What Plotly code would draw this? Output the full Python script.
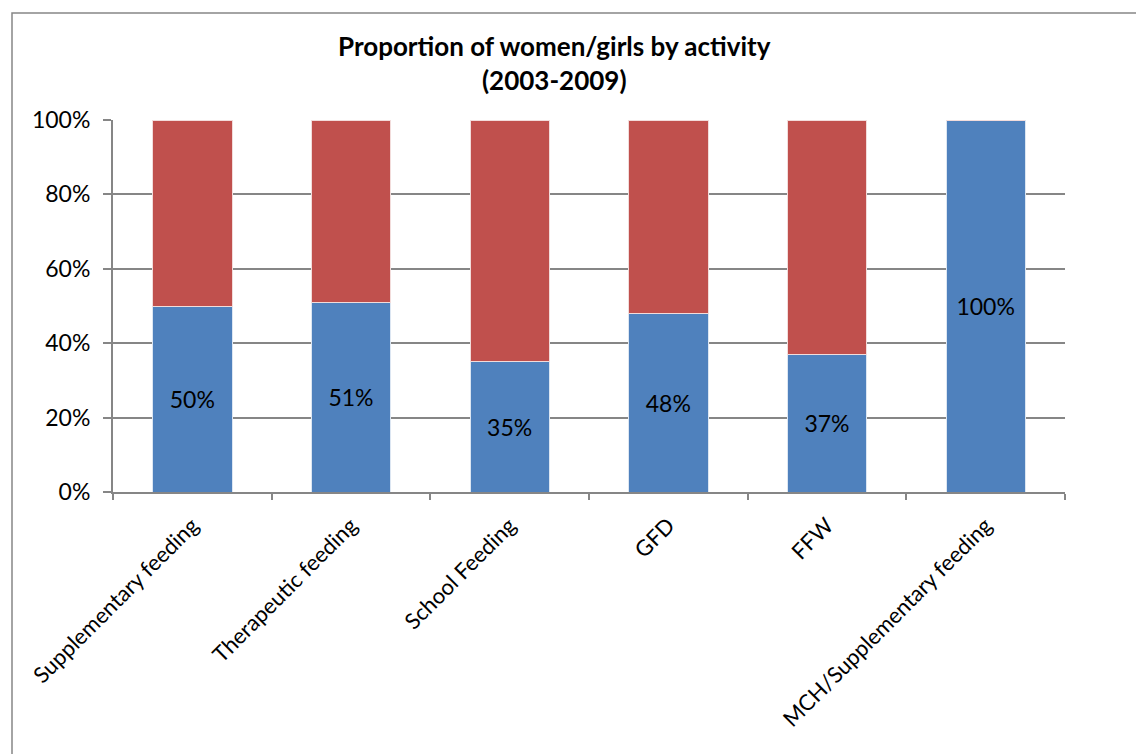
import plotly.graph_objects as go

categories = ["Supplementary feeding", "Therapeutic feeding", "School Feeding", "GFD", "FFW", "MCH/Supplementary feeding"]
women_girls = [50, 51, 35, 48, 37, 100]
others = [50, 49, 65, 52, 63, 0]
women_labels = ["50%", "51%", "35%", "48%", "37%", "100%"]

FONT = "Lato, Calibri, Carlito, sans-serif"

fig = go.Figure()
fig.add_trace(go.Bar(
    x=categories, y=women_girls, name="Women/girls",
    marker=dict(color="#4F81BD", line=dict(color="#DCE6F2", width=1)),
    text=women_labels, textposition="inside", insidetextanchor="middle",
    textfont=dict(family=FONT, size=23, color="black"),
    textangle=0,
))
fig.add_trace(go.Bar(
    x=categories, y=others, name="Men/boys",
    marker=dict(color="#C0504D", line=dict(color="#F2DCDB", width=1)),
    hoverinfo="y",
))

fig.update_layout(
    barmode="stack",
    bargap=0.5,
    width=1136, height=754,
    margin=dict(l=113, r=71, t=120, b=262),
    paper_bgcolor="white", plot_bgcolor="white",
    showlegend=False,
    font=dict(family=FONT, size=22, color="black"),
    uniformtext=dict(mode=False),
    annotations=[dict(
        text="<b>Proportion of women/girls by activity<br>(2003-2009)</b>",
        xref="paper", yref="paper", x=0.464, y=1.0 + (120 - 63) / 372,
        xanchor="center", yanchor="middle", showarrow=False,
        font=dict(family=FONT, size=26, color="black"),
    )],
    shapes=[dict(
        type="rect", xref="paper", yref="paper",
        x0=(12 - 113) / 952, x1=1.3, y0=-1.0, y1=1 + (120 - 13) / 372,
        line=dict(color="#868686", width=1.5), fillcolor="rgba(0,0,0,0)", layer="below",
    )],
)

fig.update_xaxes(
    type="category", tickangle=-45, showline=True, linecolor="#868686", linewidth=2,
    ticks="outside", tickson="boundaries", ticklen=6, tickcolor="#868686", tickwidth=2,
    showgrid=False, tickfont=dict(family=FONT, size=22, color="black"),
    ticklabelstandoff=10,
)
fig.update_yaxes(
    range=[0, 100], tickvals=[0, 20, 40, 60, 80, 100],
    ticktext=["0%", "20%", "40%", "60%", "80%", "100%"],
    showline=True, linecolor="#868686", linewidth=2,
    ticks="outside", ticklen=8, tickcolor="#868686", tickwidth=2,
    showgrid=True, gridcolor="#868686", gridwidth=1.5, zeroline=False,
    tickfont=dict(family=FONT, size=23, color="black"),
    ticklabelstandoff=8,
)

fig.write_html("out.html")
